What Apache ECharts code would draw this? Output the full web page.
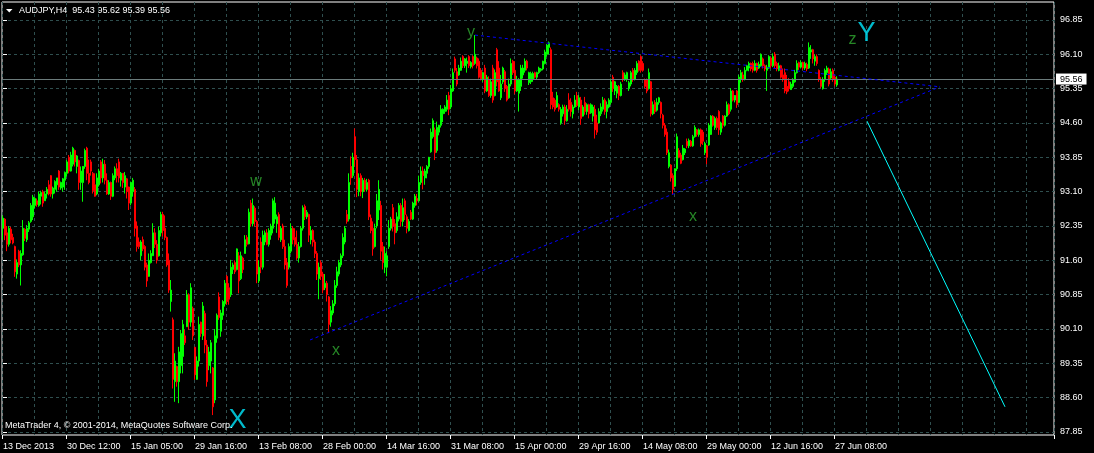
<!DOCTYPE html>
<html><head><meta charset="utf-8">
<script src="https://cdn.jsdelivr.net/npm/echarts@6/dist/echarts.min.js"></script>
<style>html,body{margin:0;padding:0;background:#000;}#c{width:1094px;height:453px;}</style>
</head><body><div id="c"></div>
<script>
const symbol = 'AUDJPY';
const timeframe = 'H4';
const copyright = 'MetaTrader 4, \u00A9 2001-2014, MetaQuotes Software Corp.';
// x-axis tick labels, one every 32 bar slots
const timeLabels = ['13 Dec 2013','30 Dec 12:00','15 Jan 05:00','29 Jan 16:00','13 Feb 08:00','28 Feb 00:00','14 Mar 16:00','31 Mar 08:00','15 Apr 00:00','29 Apr 16:00','14 May 08:00','29 May 00:00','12 Jun 16:00','27 Jun 08:00'];
// price axis labels
const priceTicks = [87.85,88.60,89.35,90.10,90.85,91.60,92.35,93.10,93.85,94.60,95.35,96.10,96.85];
const priceRange = [87.7845, 97.2427];
const slotCount = 526; // bar slots across the chart (incl. empty shift area)
// bars: [open, close, low, high]
const bars = [
[92.30,92.52,92.05,92.58],[92.50,92.15,92.04,92.52],[92.20,91.95,91.80,92.35],[91.95,92.30,91.90,92.35],[92.28,92.05,91.97,92.33],
[92.10,91.98,91.95,92.18],[91.90,91.35,91.24,91.92],[91.30,91.55,91.20,91.62],[91.80,91.50,91.45,91.83],[91.50,91.75,91.05,91.82],
[91.72,92.30,91.70,92.48],[92.28,92.08,92.02,92.30],[92.05,92.30,92.00,92.37],[92.28,92.42,92.22,92.46],[92.45,92.80,92.42,92.85],
[92.55,92.98,92.48,93.03],[92.80,92.95,92.74,92.98],[92.90,92.82,92.77,92.95],[92.80,93.05,92.77,93.10],[93.00,93.08,92.82,93.12],
[93.10,92.85,92.77,93.14],[92.90,93.05,92.90,93.10],[93.05,93.15,92.95,93.20],[93.25,93.05,93.02,93.35],[93.45,93.05,92.99,93.46],
[93.05,93.18,92.95,93.21],[93.15,93.32,93.06,93.35],[93.25,93.40,93.10,93.40],[93.55,93.20,93.14,93.57],[93.18,93.30,93.14,93.32],
[93.20,93.38,93.10,93.40],[93.35,93.52,93.14,93.54],[93.50,93.75,93.43,93.79],[93.85,93.55,93.50,93.90],[93.55,93.90,93.54,93.97],
[93.70,94.05,93.65,94.08],[94.00,93.75,93.65,94.02],[93.65,93.88,93.50,93.90],[93.78,93.30,93.14,93.80],[93.30,93.55,93.14,93.65],
[93.30,93.65,92.88,93.66],[93.65,94.00,93.60,94.04],[94.05,93.50,93.35,94.08],[93.50,93.30,93.26,93.80],[93.75,93.55,93.45,93.80],
[93.50,93.12,93.06,93.53],[93.25,93.00,92.99,93.50],[93.05,93.40,93.02,93.50],[93.25,93.55,93.21,93.60],[93.75,93.40,93.28,93.79],
[93.40,93.70,93.30,93.82],[93.70,93.35,93.26,93.79],[93.35,93.05,93.03,93.50],[93.05,93.30,93.03,93.35],[93.30,93.00,92.92,93.32],
[93.00,93.45,92.98,93.50],[93.40,93.60,93.35,93.65],[93.60,93.45,93.30,93.72],[93.75,93.40,93.30,93.82],[93.35,93.50,93.21,93.53],
[93.50,93.30,93.18,93.50],[93.20,93.45,93.06,93.53],[93.38,93.10,92.95,93.40],[93.20,92.85,92.70,93.21],[92.85,93.30,92.80,93.32],
[93.10,93.35,92.99,93.40],[93.15,92.30,92.12,93.20],[92.35,91.90,91.79,92.45],[92.00,91.90,91.85,92.10],[91.70,92.00,91.60,92.04],
[92.05,91.85,91.80,92.12],[91.90,91.45,91.38,91.93],[91.50,91.15,91.02,91.55],[91.25,91.60,91.24,91.75],[91.55,91.75,91.53,91.82],
[91.70,92.20,91.70,92.41],[92.20,91.95,91.87,92.30],[91.95,91.60,91.53,92.04],[91.70,92.25,91.68,92.34],[92.20,92.60,92.12,92.66],
[92.60,92.25,92.12,92.66],[92.30,92.10,92.04,92.58],[92.10,91.50,91.46,92.12],[91.60,90.95,90.89,91.75],[90.70,90.95,90.48,91.17],
[90.30,89.00,88.80,90.35],[88.95,89.40,88.51,89.57],[89.28,88.95,88.84,89.30],[88.95,89.60,88.48,89.71],[89.30,90.00,89.13,90.08],
[89.50,90.20,89.13,90.30],[89.95,89.80,89.75,90.08],[90.15,90.85,90.15,90.95],[90.84,90.25,90.08,90.88],[90.25,91.00,90.15,91.10],
[90.55,89.95,89.86,90.59],[89.70,89.10,88.99,89.71],[89.00,89.40,88.99,89.50],[89.40,90.20,89.28,90.37],[90.25,90.00,89.93,90.26],
[89.95,90.60,89.86,90.69],[90.44,89.75,89.57,90.50],[89.75,88.95,88.84,89.86],[89.30,89.60,89.20,89.71],[89.40,89.80,89.13,89.86],
[89.25,88.40,88.22,89.27],[88.55,89.95,88.48,90.10],[89.90,90.40,89.80,90.44],[90.80,90.35,90.30,90.90],[90.05,90.45,89.93,90.52],
[90.40,90.70,90.30,90.73],[90.65,91.10,90.59,91.17],[91.25,90.70,90.63,91.28],[91.00,90.75,90.63,91.10],[90.85,91.45,90.80,91.61],
[91.40,91.50,91.30,91.55],[91.55,91.35,91.30,91.60],[91.40,91.85,91.38,91.86],[91.70,91.15,90.88,91.78],[91.20,91.70,91.17,91.79],
[91.65,91.40,91.32,91.68],[91.75,92.05,91.75,92.15],[92.10,91.95,91.90,92.15],[91.96,92.65,91.95,92.73],[92.85,92.40,92.34,92.92],
[92.40,92.80,92.34,92.95],[92.74,92.45,92.34,92.78],[92.45,91.30,91.10,92.48],[91.15,91.45,91.10,91.60],[92.00,91.45,91.32,92.10],
[91.45,92.15,91.40,92.25],[92.00,92.20,91.93,92.25],[92.20,91.95,91.93,92.28],[91.95,92.25,91.90,92.30],[92.15,92.35,92.05,92.40],
[92.30,92.90,92.19,92.95],[92.50,92.85,92.40,92.98],[92.40,92.55,92.20,92.60],[92.60,92.10,92.04,92.65],[92.05,92.30,92.00,92.35],
[92.35,91.90,91.85,92.40],[91.90,91.50,91.40,92.05],[91.55,91.05,91.00,91.65],[91.45,91.90,91.40,91.97],[91.80,92.30,91.75,92.41],
[92.30,92.05,91.95,92.35],[92.10,91.95,91.90,92.30],[91.95,91.65,91.61,92.25],[91.65,91.90,91.55,92.00],[91.90,92.30,91.88,92.35],
[92.30,92.75,92.25,92.80],[92.78,92.55,92.48,92.82],[92.55,92.65,92.50,92.70],[92.60,92.15,92.00,92.62],[92.05,92.25,91.95,92.35],
[92.25,92.00,91.90,92.28],[92.00,91.75,91.65,92.05],[91.75,91.30,91.17,91.80],[91.20,91.45,90.75,91.55],[91.55,91.25,91.17,91.60],
[91.30,90.95,90.88,91.35],[91.00,91.10,90.95,91.30],[91.10,90.85,90.70,91.15],[90.80,90.20,90.01,90.82],[90.25,90.50,90.15,90.60],
[90.45,90.65,90.40,90.73],[90.65,91.05,90.60,91.17],[91.05,91.35,91.00,91.46],[91.30,91.55,91.25,91.61],[91.50,91.70,91.45,91.75],
[91.70,92.10,91.65,92.19],[92.00,92.30,91.95,92.35],[92.60,92.45,92.40,92.70],[92.50,93.30,92.45,93.50],[93.65,93.40,93.25,93.87],
[93.45,93.85,93.40,93.95],[94.30,93.80,93.65,94.48],[93.80,93.15,92.98,93.90],[93.10,93.40,93.00,93.50],[93.45,93.10,93.00,93.50],
[93.10,93.35,92.96,93.40],[93.35,93.15,93.10,93.40],[93.15,93.30,93.10,93.38],[93.35,92.55,92.48,93.38],[92.52,92.25,92.19,92.60],
[92.30,91.85,91.70,92.45],[91.90,92.30,91.88,92.40],[92.35,92.90,92.30,93.05],[92.70,93.15,92.48,93.35],[92.80,91.80,91.61,92.90],
[91.90,91.55,91.40,92.00],[91.45,91.75,91.32,91.90],[91.45,91.70,91.25,91.80],[91.90,92.30,91.85,92.48],[92.30,92.50,92.25,92.55],
[92.75,92.35,92.23,92.83],[92.40,92.20,91.95,92.50],[92.25,92.55,92.20,92.65],[92.50,92.80,92.45,92.85],[92.80,92.45,92.34,92.85],
[92.45,92.75,92.34,92.95],[92.90,92.60,92.48,92.95],[92.55,92.30,92.19,92.60],[92.25,92.45,92.23,92.50],[92.65,92.50,92.48,92.70],
[92.50,92.85,92.48,92.88],[92.80,93.00,92.75,93.05],[92.95,92.90,92.80,93.05],[92.90,93.30,92.88,93.45],[93.30,93.55,93.25,93.65],
[93.55,93.45,93.15,93.65],[93.40,93.55,93.25,93.60],[93.50,93.65,93.39,93.68],[93.65,93.85,93.60,93.86],[93.97,94.40,93.95,94.48],
[94.30,94.65,94.26,94.70],[94.45,93.95,93.79,94.50],[94.00,94.50,93.95,94.63],[94.40,94.55,94.33,94.56],[94.55,94.90,94.50,94.99],
[94.80,94.90,94.62,94.92],[94.85,94.95,94.80,94.99],[94.90,95.10,94.85,95.21],[95.20,94.90,94.77,95.28],[94.95,95.35,94.90,95.43],
[95.30,95.70,95.28,95.79],[96.00,95.75,95.70,96.05],[95.72,95.45,95.40,95.80],[95.65,95.80,95.63,95.87],[95.75,95.95,95.74,96.03],
[96.05,95.85,95.80,96.08],[95.85,96.00,95.80,96.02],[95.90,95.95,95.70,96.03],[96.05,95.85,95.80,96.08],[95.83,95.92,95.79,95.95],
[96.05,95.85,95.79,96.08],[95.90,96.10,95.87,96.52],[96.02,95.85,95.79,96.05],[95.95,95.60,95.57,96.01],[95.75,95.55,95.53,95.80],
[95.55,95.70,95.50,95.72],[95.80,95.30,95.25,95.87],[95.30,95.60,95.28,95.65],[95.55,95.20,95.17,95.62],[95.20,95.50,95.15,95.57],
[95.80,95.10,95.04,95.87],[95.20,95.70,95.18,95.77],[96.20,95.50,95.40,96.24],[95.80,95.30,95.28,95.95],[95.15,95.45,95.10,95.65],
[95.50,95.80,95.45,95.83],[95.72,95.35,95.28,95.76],[95.40,95.10,95.07,95.43],[95.15,95.45,95.13,95.57],[95.45,95.90,95.40,96.01],
[95.95,95.70,95.65,95.98],[95.75,95.30,95.23,95.95],[95.30,95.55,95.28,95.63],[95.25,95.55,94.85,95.58],[95.40,95.80,95.30,95.87],
[95.65,95.80,95.57,95.87],[95.75,95.95,95.70,96.01],[95.95,95.80,95.75,95.98],[95.48,95.70,95.43,95.72],[95.50,95.68,95.45,95.72],
[95.55,95.68,95.50,95.72],[95.70,95.60,95.57,95.72],[95.60,95.70,95.55,95.72],[95.70,95.80,95.67,95.83],[95.75,95.78,95.72,95.80],
[95.78,95.95,95.75,95.96],[95.90,96.15,95.88,96.20],[96.10,96.30,96.05,96.32],[96.25,96.35,96.10,96.38],[96.20,95.00,94.90,96.25],
[95.15,94.95,94.90,95.28],[95.10,94.90,94.85,95.14],[94.95,95.20,94.93,95.28],[95.00,94.90,94.85,95.03],[94.60,94.90,94.56,94.95],
[94.80,94.95,94.74,95.00],[94.95,94.65,94.56,95.00],[94.65,94.90,94.63,94.99],[95.10,94.90,94.85,95.25],[95.05,94.85,94.74,95.14],
[94.80,94.95,94.70,95.00],[94.95,95.10,94.93,95.21],[95.20,94.98,94.95,95.28],[94.95,95.15,94.88,95.21],[95.10,94.70,94.56,95.17],
[94.75,94.95,94.74,94.99],[95.05,94.85,94.78,95.17],[94.85,95.00,94.78,95.03],[95.00,94.80,94.70,95.02],[94.82,95.00,94.80,95.03],
[94.75,94.95,94.63,95.00],[94.90,94.45,94.26,94.99],[94.60,94.40,94.34,94.78],[94.60,94.85,94.59,94.92],[94.80,94.95,94.75,95.03],
[94.90,95.10,94.85,95.17],[95.10,94.85,94.78,95.14],[94.85,95.00,94.70,95.07],[94.95,95.10,94.92,95.14],[95.05,95.50,95.00,95.57],
[95.60,95.35,95.28,95.65],[95.30,95.50,95.21,95.52],[95.25,95.40,95.14,95.43],[95.40,95.20,95.10,95.43],[95.20,95.45,95.18,95.50],
[95.70,95.55,95.50,95.75],[95.55,95.65,95.52,95.70],[95.55,95.70,95.50,95.72],[95.35,95.48,95.30,95.52],[95.45,95.70,95.40,95.74],
[95.75,95.55,95.50,95.80],[95.55,95.75,95.53,95.80],[95.70,95.90,95.65,95.95],[95.95,95.75,95.72,95.97],[96.05,95.75,95.70,96.08],
[95.90,95.75,95.72,95.95],[95.55,95.40,95.36,95.57],[95.55,95.30,95.25,95.57],[95.35,95.70,95.33,95.79],[95.50,94.80,94.74,95.52],
[94.80,95.00,94.77,95.07],[95.05,94.85,94.80,95.10],[94.88,95.05,94.85,95.14],[95.05,95.15,95.00,95.17],[95.05,94.80,94.70,95.07],
[94.77,94.55,94.48,94.80],[94.55,94.35,94.30,94.60],[94.40,93.95,93.90,94.48],[93.65,93.95,93.61,94.02],[93.68,93.40,93.32,93.70],
[93.45,93.15,93.04,93.50],[93.22,93.60,93.20,93.61],[93.60,94.30,93.55,94.37],[94.00,93.85,93.83,94.05],[93.90,93.72,93.70,93.95],
[93.80,94.05,93.78,94.12],[93.95,94.03,93.90,94.05],[94.20,94.10,94.05,94.26],[94.10,94.22,94.05,94.26],[94.20,94.10,94.08,94.23],
[94.10,94.30,94.08,94.34],[94.30,94.50,94.28,94.55],[94.45,94.35,94.30,94.47],[94.35,94.45,94.30,94.48],[94.45,94.15,94.08,94.48],
[94.40,94.20,94.12,94.45],[93.95,94.15,93.90,94.19],[94.10,93.85,93.70,94.12],[94.12,94.55,94.10,94.60],[94.35,94.75,94.34,94.77],
[94.75,94.55,94.52,94.77],[94.50,94.70,94.45,94.74],[94.70,94.50,94.45,94.74],[94.85,94.45,94.34,94.88],[94.40,94.60,94.34,94.63],
[94.75,94.55,94.48,94.77],[94.55,94.75,94.52,94.77],[94.75,95.00,94.73,95.07],[95.00,94.80,94.77,95.03],[94.90,95.30,94.85,95.36],
[95.30,95.10,95.07,95.32],[95.10,95.20,95.05,95.21],[95.30,95.00,94.93,95.32],[95.05,95.60,95.03,95.65],[95.55,95.70,95.48,95.76],
[95.65,95.55,95.50,95.72],[95.55,95.75,95.53,95.82],[95.75,95.85,95.73,95.87],[95.80,95.90,95.73,95.94],[95.90,95.78,95.73,95.92],
[95.90,95.75,95.70,95.94],[95.75,95.90,95.73,95.97],[95.90,95.75,95.70,95.92],[95.80,95.88,95.78,95.94],[95.85,96.10,95.83,96.12],
[96.00,95.85,95.79,96.03],[95.85,95.78,95.73,95.88],[95.75,95.82,95.30,95.87],[95.80,96.05,95.78,96.08],[96.02,95.85,95.79,96.05],
[95.85,96.05,95.82,96.12],[96.10,95.85,95.79,96.15],[95.90,95.78,95.73,95.94],[95.75,95.85,95.73,95.92],[95.85,95.60,95.57,95.87],
[95.65,95.55,95.50,95.79],[95.70,95.30,95.25,95.79],[95.40,95.28,95.23,95.65],[95.50,95.35,95.29,95.58],[95.33,95.45,95.32,95.50],
[95.40,95.55,95.36,95.58],[95.50,95.70,95.48,95.76],[95.70,95.90,95.68,95.97],[95.92,95.82,95.76,95.94],[95.82,95.92,95.79,95.97],
[95.92,95.80,95.76,95.94],[95.80,95.90,95.76,95.94],[95.88,95.78,95.73,95.92],[95.80,96.25,95.78,96.36],[96.15,96.20,96.00,96.30],
[96.20,96.00,95.90,96.22],[95.95,96.05,95.85,96.10],[96.05,95.90,95.85,96.10],[95.75,95.55,95.50,95.77],[95.55,95.40,95.36,95.60],
[95.35,95.55,95.33,95.60],[95.55,95.75,95.50,95.79],[95.70,95.80,95.65,95.85],[95.78,95.45,95.40,95.81],[95.58,95.72,95.56,95.79],
[95.75,95.55,95.50,95.79],[95.60,95.45,95.40,95.65],[95.43,95.56,95.39,95.62]
];
// chart objects: [bar slot, price] end points
const channelTop = [[236, 96.52], [468.5, 95.39]];
const channelBottom = [[153.5, 89.86], [468.5, 95.39]];
const projection = [[432, 94.64], [501, 88.40]];
// wave labels: text, bar slot, price
const waveLabels = [
  ['w', 126.5, 93.31], ['x', 166.5, 89.62], ['y', 234, 96.57], ['x', 345, 92.55], ['z', 424.75, 96.43],
  ['X', 117.25, 88.09], ['Y', 431.75, 96.55]
];

const FONT = "'Liberation Sans', Arial, sans-serif";
const cats = Array.from({length: slotCount}, (_, i) => (i % 32 === 0 && i / 32 < timeLabels.length) ? timeLabels[i / 32] : '');
const last = bars[bars.length - 1];
const f2 = v => v.toFixed(2);
const header = symbol + ',' + timeframe + '  ' + [last[0], last[3], last[2], last[1]].map(f2).join(' ');

const chart = echarts.init(document.getElementById('c'), null, {renderer: 'canvas'});
const lineSeries = (pts, color, type) => ({
  type: 'line', xAxisIndex: 1, yAxisIndex: 0, data: pts, symbol: 'none', silent: true, z: 5,
  lineStyle: {color: color, width: 1, type: type}
});
chart.setOption({
  backgroundColor: '#000',
  animation: false,
  grid: {left: 2, right: 40, top: 2, bottom: 18, show: true, borderColor: '#ffffff', borderWidth: 1, backgroundColor: 'transparent'},
  xAxis: [{
    type: 'category', data: cats, boundaryGap: true,
    axisLine: {show: false},
    axisTick: {show: true, length: 4, lineStyle: {color: '#fff'}, interval: (i) => cats[i] !== ''},
    axisLabel: {color: '#fff', fontSize: 9, fontFamily: FONT, align: 'left', margin: 7, interval: (i) => cats[i] !== ''},
    splitLine: {show: true, interval: (i) => i % 16 === 0, lineStyle: {color: '#2f4f4f', type: [3, 3], width: 1}}
  }, {
    type: 'value', min: -0.5, max: slotCount - 0.5, show: false, splitLine: {show: false}
  }],
  yAxis: {
    type: 'value', position: 'right', min: priceRange[0], max: priceRange[1],
    axisLine: {show: false},
    axisTick: {show: true, length: 4, lineStyle: {color: '#fff'}, customValues: priceTicks},
    axisLabel: {color: '#fff', fontSize: 9, fontFamily: FONT, margin: 6, customValues: priceTicks, formatter: v => f2(v)},
    splitLine: {show: true, lineStyle: {color: '#2f4f4f', type: [3, 3], width: 1}}
  },
  series: [
    {
      type: 'candlestick', xAxisIndex: 0, yAxisIndex: 0, data: bars, barWidth: 2, z: 3,
      itemStyle: {color: '#00ff00', color0: '#ff0000', borderColor: '#00ff00', borderColor0: '#ff0000', borderWidth: 1},
      markLine: {
        silent: true, symbol: ['none', 'none'], animation: false,
        lineStyle: {color: '#6b7b7b', type: 'solid', width: 1},
        label: {show: true, position: 'end', distance: 2, formatter: () => f2(last[1]), color: '#000', backgroundColor: '#fff', padding: [1, 4, 1, 4], fontSize: 9, fontFamily: FONT, lineHeight: 9},
        data: [{yAxis: last[1]}]
      }
    },
    lineSeries(channelTop, '#0000ff', [3, 3]),
    lineSeries(channelBottom, '#0000ff', [3, 3]),
    lineSeries(projection, '#00ffff', 'solid'),
    {
      type: 'scatter', xAxisIndex: 1, yAxisIndex: 0, symbolSize: 0, silent: true, z: 6,
      data: waveLabels.map(w => {
        const big = w[0] === w[0].toUpperCase();
        return {value: [w[1], w[2]], label: {show: true, position: 'inside', formatter: w[0], fontFamily: FONT,
          fontSize: big ? 27 : 16, color: big ? '#00e8ff' : '#2fa82f'}};
      })
    }
  ],
  graphic: [
    {type: 'polygon', shape: {points: [[6, 9], [12.5, 9], [9.25, 12.5]]}, style: {fill: '#fff'}},
    {type: 'text', left: 19, top: 6, style: {text: header, fill: '#fff', font: '9px ' + FONT}},
    {type: 'text', left: 5, top: 421, z: 10, style: {text: copyright, fill: '#fff', font: '9px ' + FONT}}
  ]
});
</script>
</body></html>
